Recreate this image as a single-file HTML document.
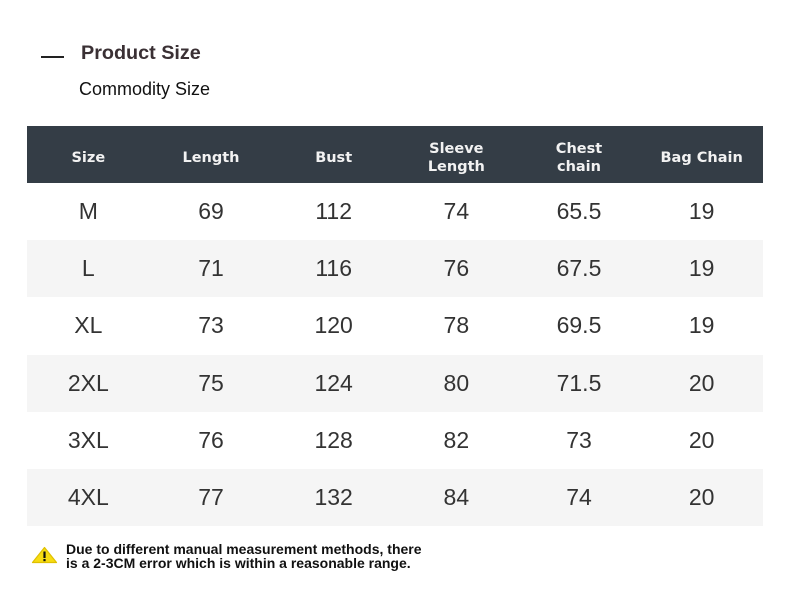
<!DOCTYPE html>
<html>
<head>
<meta charset="utf-8">
<style>
  html,body{margin:0;padding:0;background:#fff;}
  body{width:790px;height:595px;position:relative;overflow:hidden;font-family:"Liberation Sans",sans-serif;}
  .abs{position:absolute;}
  .hdr{position:absolute;left:27px;top:126px;width:736px;height:57px;background:#343d46;}
  .hc{position:absolute;top:126px;height:57px;width:122.67px;display:flex;align-items:center;justify-content:center;text-align:center;
      font-family:"DejaVu Sans",sans-serif;font-weight:bold;font-size:14.5px;line-height:18px;color:#f2f2f2;box-sizing:border-box;padding-top:6px;}
  .row{position:absolute;left:27px;width:736px;height:57.17px;}
  .g{background:#f5f5f5;}
  .c{position:absolute;width:122.67px;height:57.17px;display:flex;align-items:center;justify-content:center;
     font-family:"Liberation Sans",sans-serif;font-size:23px;color:#333;}
</style>
</head>
<body>
<div class="abs" style="left:41px;top:56px;width:23px;height:2px;background:#222;"></div>
<div class="abs" style="left:81px;top:44.3px;font-weight:bold;font-size:19.8px;line-height:19.8px;color:#3a3034;white-space:nowrap;">Product Size</div>
<div class="abs" style="left:79px;top:79.8px;font-size:18px;line-height:18px;color:#111;white-space:nowrap;">Commodity Size</div>

<div class="hdr"></div>
<div class="hc" style="left:27px;">Size</div>
<div class="hc" style="left:149.67px;">Length</div>
<div class="hc" style="left:272.33px;">Bust</div>
<div class="hc" style="left:395px;">Sleeve<br>Length</div>
<div class="hc" style="left:517.67px;">Chest<br>chain</div>
<div class="hc" style="left:640.33px;">Bag Chain</div>

<div class="row" style="top:183px;">
  <div class="c" style="left:0;">M</div><div class="c" style="left:122.67px;">69</div><div class="c" style="left:245.33px;">112</div><div class="c" style="left:368px;">74</div><div class="c" style="left:490.67px;">65.5</div><div class="c" style="left:613.33px;">19</div>
</div>
<div class="row g" style="top:240.17px;">
  <div class="c" style="left:0;">L</div><div class="c" style="left:122.67px;">71</div><div class="c" style="left:245.33px;">116</div><div class="c" style="left:368px;">76</div><div class="c" style="left:490.67px;">67.5</div><div class="c" style="left:613.33px;">19</div>
</div>
<div class="row" style="top:297.33px;">
  <div class="c" style="left:0;">XL</div><div class="c" style="left:122.67px;">73</div><div class="c" style="left:245.33px;">120</div><div class="c" style="left:368px;">78</div><div class="c" style="left:490.67px;">69.5</div><div class="c" style="left:613.33px;">19</div>
</div>
<div class="row g" style="top:354.5px;">
  <div class="c" style="left:0;">2XL</div><div class="c" style="left:122.67px;">75</div><div class="c" style="left:245.33px;">124</div><div class="c" style="left:368px;">80</div><div class="c" style="left:490.67px;">71.5</div><div class="c" style="left:613.33px;">20</div>
</div>
<div class="row" style="top:411.67px;">
  <div class="c" style="left:0;">3XL</div><div class="c" style="left:122.67px;">76</div><div class="c" style="left:245.33px;">128</div><div class="c" style="left:368px;">82</div><div class="c" style="left:490.67px;">73</div><div class="c" style="left:613.33px;">20</div>
</div>
<div class="row g" style="top:468.83px;">
  <div class="c" style="left:0;">4XL</div><div class="c" style="left:122.67px;">77</div><div class="c" style="left:245.33px;">132</div><div class="c" style="left:368px;">84</div><div class="c" style="left:490.67px;">74</div><div class="c" style="left:613.33px;">20</div>
</div>

<svg class="abs" style="left:31px;top:546px;" width="27" height="18" viewBox="0 0 27 18">
  <path d="M13.5 1.5 L25.5 16.5 L1.5 16.5 Z" fill="#f7dc12" stroke="#e0c000" stroke-width="1.2" stroke-linejoin="round"/>
  <rect x="12.4" y="5.5" width="2.2" height="6.5" fill="#111"/>
  <rect x="12.4" y="13" width="2.2" height="2.2" fill="#111"/>
</svg>
<div class="abs" style="left:66px;top:543.3px;font-weight:bold;font-size:14px;line-height:13.4px;color:#111;white-space:nowrap;">Due to different manual measurement methods, there<br>is a 2-3CM error which is within a reasonable range.</div>
</body>
</html>
